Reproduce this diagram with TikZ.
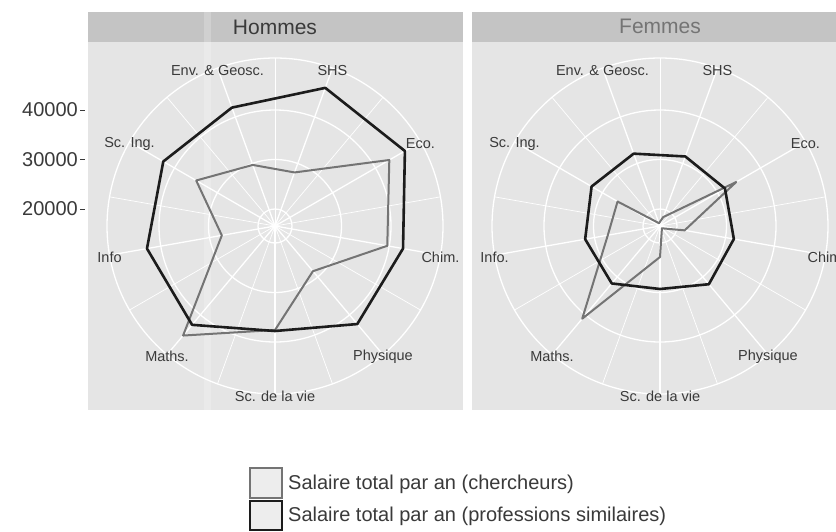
\documentclass[tikz,border=0pt]{standalone}
\usepackage{fontspec}
\setmainfont{Liberation Sans}
\usetikzlibrary{calc}
\definecolor{panelbg}{HTML}{E5E5E5}
\definecolor{stripbg}{HTML}{C4C4C4}
\definecolor{txt}{HTML}{3A3A3A}
\definecolor{femtxt}{HTML}{747474}
\definecolor{grayline}{HTML}{747474}
\definecolor{blackline}{HTML}{1C1C1C}
\definecolor{keyfill}{HTML}{EDEDED}
\tikzset{
  gridmaj/.style={draw=white, line width=1.3pt},
  gridmin/.style={draw=white, line width=0.7pt},
  graypoly/.style={draw=grayline, line width=2pt, line join=round},
  blackpoly/.style={draw=blackline, line width=2.6pt, line join=round},
  thlab/.style={text=txt, font=\fontsize{14.5}{16}\selectfont, inner sep=0pt},
  ticklab/.style={text=txt, font=\fontsize{20}{22}\selectfont, inner sep=0pt, anchor=east},
  tickmark/.style={draw=txt, line width=1pt},
  striplab/.style={text=txt, font=\fontsize{21}{24}\selectfont, inner sep=0pt},
  legtext/.style={text=txt, font=\fontsize{20}{22}\selectfont, inner sep=0pt, anchor=west},
  keybox/.style={fill=keyfill, line width=1.6pt},
}
\begin{document}
\begin{tikzpicture}[x=1pt,y=-1pt]
\useasboundingbox (0,0) rectangle (836,531);
\fill[white] (0,0) rectangle (836,531);

% panels and strips
\fill[panelbg] (88,42) rectangle (463,410);
\fill[stripbg] (88,12) rectangle (463,42);
\fill[panelbg] (472,42) rectangle (847,410);
\fill[stripbg] (472,12) rectangle (847,42);
\fill[white, opacity=0.22] (204,12) rectangle (211,410);

\node[striplab] (sH) at (275,27) {Hommes};
\node[striplab, text=femtxt] (sF) at (660,26) {Femmes};

% ---------- left radar (Hommes) ----------
\begin{scope}[shift={(275,226)}]
  \foreach \r in {17,66.5,116,168} \draw[gridmaj] (0,0) circle[radius=\r pt];
  \foreach \a in {-90,-50,...,230} \draw[gridmaj] (0,0) -- (\a:168pt);
  \foreach \a in {-70,-30,...,250} \draw[gridmin] (0,0) -- (\a:168pt);
  \draw[graypoly] (110:65pt) -- (70:57pt) -- (30:132pt) -- (-10:114pt) -- (-50:59pt)
    -- (-90:104pt) -- (230:143pt) -- (190:54pt) -- (150:91pt) -- cycle;
  \draw[blackpoly] (110:126pt) -- (70:147pt) -- (30:150pt) -- (-10:130pt) -- (-50:128pt)
    -- (-90:105pt) -- (230:129pt) -- (190:130pt) -- (150:129pt) -- cycle;
\end{scope}
\begin{scope}[shift={(275,228)}]
  \node[thlab] (lEnv) at (110:168pt) {Env. \& Geosc.};
  \node[thlab] (lSHS) at (70:168pt) {SHS};
  \node[thlab] (lEco) at (30:168pt) {Eco.};
  \node[thlab] (lChim) at (-10:168pt) {Chim.};
  \node[thlab] (lPhys) at (-50:168pt) {Physique};
  \node[thlab] (lVie) at (-90:168pt) {Sc. de la vie};
  \node[thlab] (lMaths) at (230:168pt) {Maths.};
  \node[thlab] (lInfo) at (190:168pt) {Info};
  \node[thlab] (lIng) at (150:168pt) {Sc. Ing.};
\end{scope}

% ---------- right radar (Femmes) ----------
\begin{scope}[shift={(660,226)}]
  \foreach \r in {17,66.5,116,168} \draw[gridmaj] (0,0) circle[radius=\r pt];
  \foreach \a in {-90,-50,...,230} \draw[gridmaj] (0,0) -- (\a:168pt);
  \foreach \a in {-70,-30,...,250} \draw[gridmin] (0,0) -- (\a:168pt);
  \draw[graypoly] (110:3pt) -- (70:9.5pt) -- (30:88pt) -- (-10:25pt) -- (-50:3pt)
    -- (-90:31pt) -- (230:121pt) -- (190:53pt) -- (150:49pt) -- cycle;
  \draw[blackpoly] (110:77pt) -- (70:74pt) -- (30:75pt) -- (-10:75pt) -- (-50:76pt)
    -- (-90:63pt) -- (230:75pt) -- (190:76pt) -- (150:79pt) -- cycle;
\end{scope}
\begin{scope}[shift={(660,228)}]
  \node[thlab] (rEnv) at (110:168pt) {Env. \& Geosc.};
  \node[thlab] (rSHS) at (70:168pt) {SHS};
  \node[thlab] (rEco) at (30:168pt) {Eco.};
  \node[thlab, anchor=west] (rChim) at ($(-10:168pt)+(-18,0)$) {Chim.};
  \node[thlab] (rPhys) at (-50:168pt) {Physique};
  \node[thlab] (rVie) at (-90:168pt) {Sc. de la vie};
  \node[thlab] (rMaths) at (230:168pt) {Maths.};
  \node[thlab] (rInfo) at (190:168pt) {Info.};
  \node[thlab] (rIng) at (150:168pt) {Sc. Ing.};
\end{scope}

% ---------- radial axis ----------
\node[ticklab] (t40) at (78,110) {40000};
\node[ticklab] (t30) at (78,159.5) {30000};
\node[ticklab] (t20) at (78,209) {20000};
\draw[tickmark] (80,110) -- (85,110);
\draw[tickmark] (80,159.5) -- (85,159.5);
\draw[tickmark] (80,209) -- (85,209);

% ---------- legend ----------
\draw[keybox, draw=grayline] (250,468) rectangle (282,498);
\draw[keybox, draw=blackline] (250,501) rectangle (282,530);
\node[legtext] (leg1) at (288,484) {Salaire total par an (chercheurs)};
\node[legtext] (leg2) at (288,516) {Salaire total par an (professions similaires)};
\end{tikzpicture}
\end{document}
